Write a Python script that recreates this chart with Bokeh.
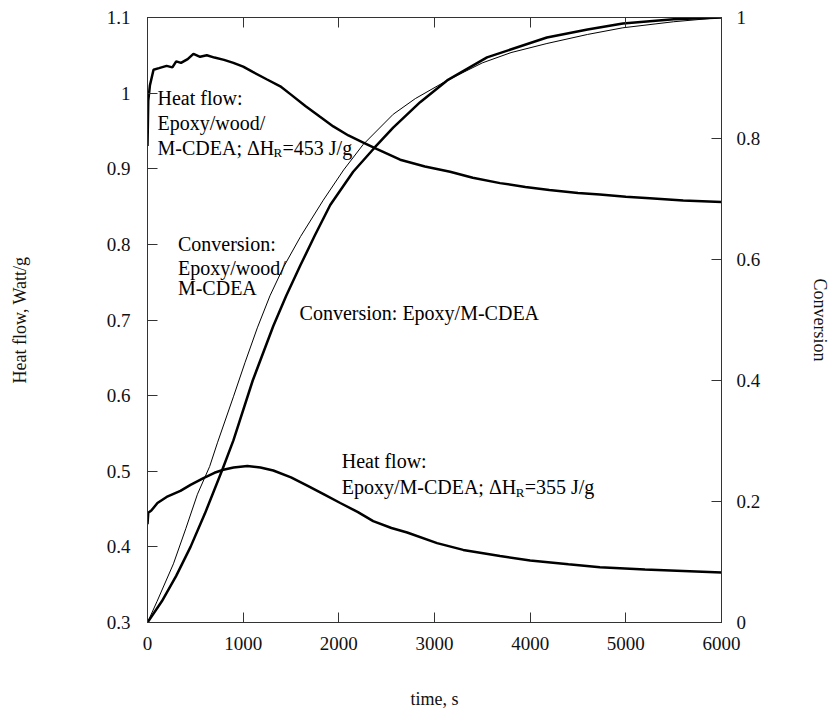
from bokeh.plotting import figure
from bokeh.models import Range1d, LinearAxis, FixedTicker, Label, CustomJSTickFormatter
from bokeh.embed import file_html
from bokeh.resources import INLINE

# ---------------- data ----------------
time_hf_wood = [0, 8, 25, 63, 120, 200, 260, 300, 350, 420, 480, 550, 620, 700, 800, 898,
                1000, 1100, 1250, 1388, 1500, 1650, 1800, 1942, 2100, 2250, 2400, 2641,
                2900, 3163, 3400, 3685, 3950, 4200, 4500, 4729, 5000, 5250, 5600, 6000]
hf_wood = [0.93, 0.99, 1.01, 1.031, 1.033, 1.036, 1.034, 1.042, 1.040, 1.045, 1.052, 1.048,
           1.050, 1.047, 1.044, 1.040, 1.035, 1.028, 1.018, 1.009, 0.998, 0.983, 0.969,
           0.956, 0.944, 0.935, 0.926, 0.912, 0.903, 0.896, 0.888, 0.881, 0.876, 0.872,
           0.868, 0.866, 0.863, 0.861, 0.858, 0.856]

time_hf_epoxy = [0, 8, 40, 104, 200, 344, 450, 585, 700, 793, 900, 1044, 1180, 1315, 1500,
                 1670, 1850, 2015, 2200, 2359, 2550, 2714, 3027, 3300, 3685, 4000, 4400,
                 4729, 5200, 5600, 6000]
hf_epoxy = [0.43, 0.445, 0.448, 0.458, 0.466, 0.474, 0.482, 0.491, 0.498, 0.502, 0.505,
            0.507, 0.505, 0.501, 0.492, 0.481, 0.469, 0.458, 0.446, 0.434, 0.425, 0.419,
            0.405, 0.396, 0.388, 0.382, 0.377, 0.373, 0.370, 0.368, 0.366]

time_conv_wood = [0, 100, 271, 400, 522, 650, 731, 900, 1020, 1148, 1280, 1420, 1600, 1837,
                  2050, 2254, 2568, 2800, 3132, 3500, 3800, 4175, 4600, 4969, 5500, 6000]
conv_wood = [0.0, 0.035, 0.097, 0.155, 0.212, 0.258, 0.297, 0.374, 0.430, 0.487, 0.540,
             0.587, 0.638, 0.698, 0.748, 0.790, 0.840, 0.866, 0.896, 0.925, 0.942, 0.957,
             0.972, 0.983, 0.993, 1.0]

time_conv_epoxy = [0, 150, 300, 450, 600, 783, 898, 1100, 1315, 1450, 1597, 1750, 1910,
                   2150, 2380, 2568, 2850, 3132, 3549, 4175, 4600, 4969, 5500, 6000]
conv_epoxy = [0.0, 0.035, 0.077, 0.125, 0.18, 0.253, 0.301, 0.40, 0.49, 0.54, 0.59, 0.64,
              0.69, 0.745, 0.786, 0.818, 0.86, 0.896, 0.934, 0.967, 0.98, 0.99, 0.997, 1.0]

x_ticks = [0, 1000, 2000, 3000, 4000, 5000, 6000]
left_ticks = [0.3, 0.4, 0.5, 0.6, 0.7, 0.8, 0.9, 1.0, 1.1]
right_ticks = [0.0, 0.2, 0.4, 0.6, 0.8, 1.0]

FONT = "Liberation Serif"

p = figure(width=833, height=722, output_backend="svg", toolbar_location=None,
           x_range=Range1d(0, 6000), y_range=Range1d(0.3, 1.1),
           min_border_left=147, min_border_right=111, min_border_top=17, min_border_bottom=100,
           x_axis_label="time, s", y_axis_label="Heat flow, Watt/g")
p.extra_y_ranges = {"conv": Range1d(0, 1)}
p.grid.visible = False
p.outline_line_color = "black"
p.outline_line_width = 1
p.background_fill_color = "white"
p.border_fill_color = "white"


def style_axis(ax, ticks, overrides=None):
    ax.ticker = FixedTicker(ticks=ticks)
    ax.major_tick_in = 10
    ax.major_tick_out = 0
    ax.minor_tick_in = 0
    ax.minor_tick_out = 0
    ax.axis_line_color = "#333333"
    ax.major_tick_line_color = "#333333"
    ax.major_label_text_font = FONT
    ax.major_label_text_font_size = "19px"
    ax.major_label_text_color = "#111111"
    ax.axis_label_text_font = FONT
    ax.axis_label_text_font_size = "18px"
    ax.axis_label_text_font_style = "normal"
    ax.axis_label_text_color = "#111111"
    if overrides:
        ax.major_label_overrides = overrides


xa = p.xaxis[0]
style_axis(xa, x_ticks)
xa.major_label_standoff = 14
xa.axis_label_standoff = 36

ya = p.yaxis[0]
style_axis(ya, left_ticks, {1: "1"})
ya.major_label_standoff = 17
ya.axis_label_standoff = 74

ra = LinearAxis(y_range_name="conv", axis_label="Conversion")
style_axis(ra, right_ticks, {0: "0", 1: "1"})
ra.major_label_standoff = 15
ra.axis_label_standoff = 47
p.add_layout(ra, "right")

ta = LinearAxis()
style_axis(ta, x_ticks)
ta.formatter = CustomJSTickFormatter(code="return ''")
ta.major_label_text_font_size = "1px"
ta.major_label_standoff = 0
p.add_layout(ta, "above")

# ---------------- curves ----------------
p.line(time_conv_wood, conv_wood, y_range_name="conv", line_color="black", line_width=1)
p.line(time_conv_epoxy, conv_epoxy, y_range_name="conv", line_color="black", line_width=2.5)
p.line(time_hf_wood, hf_wood, line_color="black", line_width=2.5)
p.line(time_hf_epoxy, hf_epoxy, line_color="black", line_width=2.5)

# ---------------- annotations ----------------
def lab(x, y, text, size="20px", xo=0, yo=0):
    p.add_layout(Label(x=x, y=y, x_offset=xo, y_offset=yo, text=text, text_font=FONT,
                       text_font_size=size, text_baseline="middle", text_align="left",
                       text_color="black"))


lab(105, 0.993, "Heat flow:")
lab(105, 0.961, "Epoxy/wood/")
lab(105, 0.928, "M-CDEA; ΔH")
lab(105, 0.928, "R", size="13px", xo=116, yo=-5)
lab(105, 0.928, "=453 J/g", xo=125)

lab(318, 0.801, "Conversion:")
lab(318, 0.769, "Epoxy/wood/")
lab(318, 0.742, "M-CDEA")

lab(1590, 0.709, "Conversion: Epoxy/M-CDEA")

lab(2030, 0.514, "Heat flow:")
lab(2030, 0.479, "Epoxy/M-CDEA; ΔH")
lab(2030, 0.479, "R", size="13px", xo=174, yo=-5)
lab(2030, 0.479, "=355 J/g", xo=183)

open("out.html", "w").write(file_html(p, INLINE))
